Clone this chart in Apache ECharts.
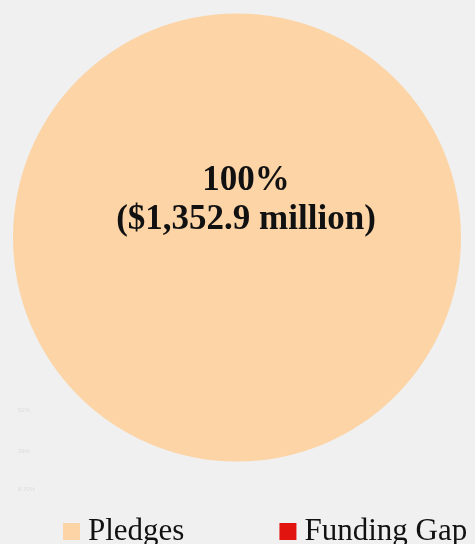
<!DOCTYPE html>
<html>
<head>
<meta charset="utf-8">
<script src="https://cdn.jsdelivr.net/npm/echarts@6/dist/echarts.min.js"></script>
<style>
html,body{margin:0;padding:0;background:#f0f0f0;}
#main{width:475px;height:544px;}
</style>
</head>
<body>
<div id="main"></div>
<script>
var categories = ["Pledges", "Funding Gap"];
var values = [1352.9, 0];
var colors = ["#fcd4a6", "#e2140f"];
var faintLabels = ["52%", "39%", "8.70%"];

var chart = echarts.init(document.getElementById('main'));
var total = values.reduce(function(a,b){return a+b;},0);
var data = categories.map(function(c,i){
  return {
    name: c, value: values[i],
    itemStyle: {color: colors[i]},
    label: {show: i === 0}
  };
});
var option = {
  backgroundColor: '#f0f0f0',
  animation: false,
  legend: {
    data: categories,
    left: 58, top: 511,
    itemWidth: 17, itemHeight: 17, itemGap: 95,
    icon: 'rect',
    textStyle: {fontFamily: 'Liberation Serif', fontSize: 31, color: '#111', padding: [0,0,0,3]}
  },
  graphic: faintLabels.map(function(t,i){
    return {type:'text', left: 18, top: [407, 448, 486][i],
      style:{text:t, fontSize:6, fill:'#dcdcdc', fontFamily:'Liberation Sans'}};
  }),
  series: [{
    type: 'pie',
    center: [237, 237.5],
    radius: [0, 224],
    startAngle: 90,
    stillShowZeroSum: true,
    label: {
      position: 'center',
      offset: [9, -37],
      formatter: function(p){
        var pct = Math.round(p.value / total * 100);
        return pct + '%\n($' + p.value.toLocaleString('en-US',{minimumFractionDigits:1, maximumFractionDigits:1}) + ' million)';
      },
      fontFamily: 'Liberation Serif', fontWeight: 'bold', fontSize: 35, lineHeight: 39, color: '#111'
    },
    labelLine: {show: false},
    emphasis: {disabled: true},
    data: data
  }]
};
chart.setOption(option);
</script>
</body>
</html>
